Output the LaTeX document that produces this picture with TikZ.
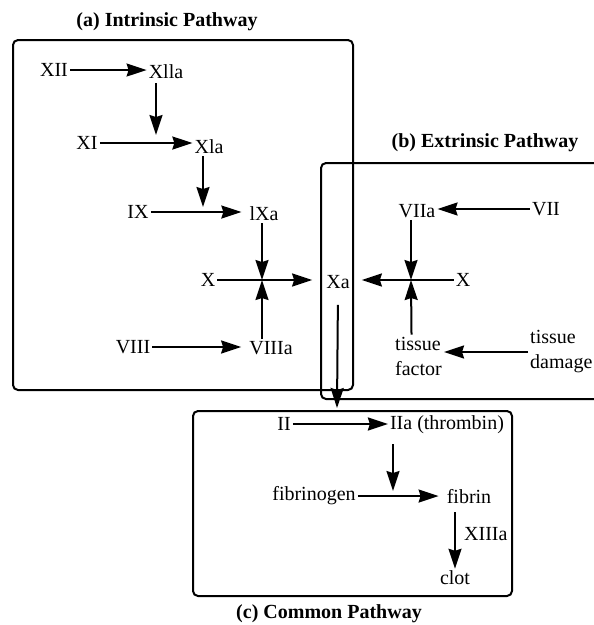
\documentclass[tikz,border=0pt]{standalone}
\usepackage{fontspec}
\setmainfont{Liberation Serif}
\usetikzlibrary{arrows.meta}

\begin{document}
\begin{tikzpicture}[x=1pt,y=-1pt,
  every node/.style={font=\fontsize{20}{25}\selectfont, inner sep=2pt},
  arr/.style={line width=2pt, -{Stealth[length=20pt,width=13pt,inset=2pt]}},
  hit/.style={arr, shorten >=5pt},
  panel/.style={line width=2pt, rounded corners=5pt},
  title/.style={font=\fontsize{20}{22}\selectfont\bfseries}]
\useasboundingbox (0,0) rectangle (594,625);

% (a) intrinsic pathway
\draw[panel] (13,40) rectangle (353,390);
\node[title] (ttla) at (167,22) {(a) Intrinsic Pathway};
\node (xii) at (54,70) {XII};
\node (xiia) at (166,72) {Xlla};
\node (xi) at (87,143) {XI};
\node (xia) at (209,147) {Xla};
\node (ix) at (138,212) {IX};
\node (ixa) at (264,214) {lXa};
\node (xl) at (208,280) {X};
\node (xa) at (338,282) {Xa};
\node (viii) at (133,347) {VIII};
\node (viiia) at (271,348) {VIIIa};
\coordinate (j1) at (156,143);
\coordinate (j2) at (203,212);
\coordinate (jx) at (262,280);
\draw[arr] (xii.east) -- (xii.east -| xiia.west);
\draw[arr] (xi.east) -- (xi.east -| xia.west);
\draw[arr, shorten >=6pt] (ix.east) -- (ix.east -| ixa.west);
\draw[arr, shorten >=6pt] (viii.east) -- (viii.east -| viiia.west);
\draw[hit, shorten <=2pt, shorten >=8pt] (xiia.south -| j1) -- (j1);
\draw[hit] (xia.south -| j2) -- (j2);
\draw[arr, shorten >=12pt] (xl.east) -- (xl.east -| xa.west);
\draw[arr] (ixa.south -| jx) -- (jx);
\draw[arr] (viiia.north -| jx) -- (jx);

% (b) extrinsic pathway
\draw[panel] (594,163) -| (321,399) -- (594,399);
\node[title] (ttlb) at (485,143) {(b) Extrinsic Pathway};
\node (viia) at (417,211) {VIIa};
\node (vii) at (546,209) {VII};
\node (xr) at (463,280) {X};
\node[align=left, anchor=west] (tf) at (393,356) {tissue\\factor};
\node[align=left, anchor=west] (td) at (528,352) {tissue\\damage};
\coordinate (jy) at (411,280);
\draw[arr] (vii.west) -- (vii.west -| viia.east);
\draw[arr] (td.west) -- (td.west -| tf.east);
\draw[arr, shorten >=10pt] (xr.west) -- (xr.west -| xa.east);
\draw[arr] (viia.south -| jy) -- (jy);
\draw[arr] ([xshift=-7pt]tf.north) -- (jy);

% (c) common pathway
\coordinate (cin) at (337,408);
\draw[arr, shorten <=14pt] (xa.south) -- (cin);
\draw[panel] (193,411) rectangle (512,596);
\node[title] (ttlc) at (329,614) {(c) Common Pathway};
\node (ii) at (284,424) {II};
\node (iia) at (447,425) {IIa (thrombin)};
\node (fbg) at (314,496) {fibrinogen};
\node (fib) at (469,497) {fibrin};
\node[anchor=west] (xiiia) at (462,534) {XIIIa};
\node (clot) at (455,578) {clot};
\coordinate (j3) at (393,496);
\draw[arr] (ii.east) -- (ii.east -| iia.west);
\draw[hit, shorten <=8pt] (iia.south -| j3) -- (j3);
\draw[arr, shorten >=6pt] (fbg.east) -- (fbg.east -| fib.west);
\draw[arr, shorten <=6pt] (fib.south -| clot) -- (clot);
\end{tikzpicture}
\end{document}
